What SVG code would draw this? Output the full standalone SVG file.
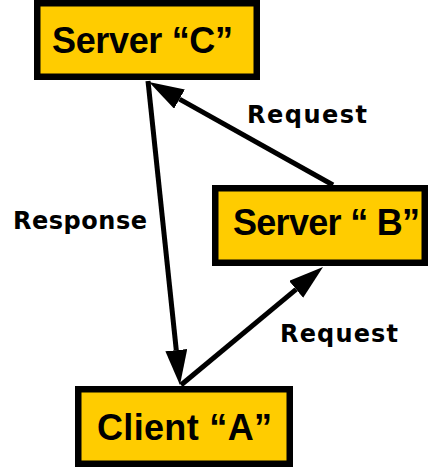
<svg xmlns="http://www.w3.org/2000/svg" width="428" height="469" viewBox="0 0 428 469">
<defs>
<style>
.box{fill:#FFCC00;stroke:#000;stroke-width:6.5}
.title{font-family:"Liberation Sans",Arial,sans-serif;font-weight:bold;font-size:36px;fill:#000}
.lbl{font-family:"DejaVu Sans",Verdana,sans-serif;font-weight:bold;font-size:24px;fill:#000}
.conn{fill:none;stroke:#000;stroke-width:5}
</style>
<marker id="ah" viewBox="0 0 35 22" refX="0" refY="11" markerWidth="35" markerHeight="22" markerUnits="userSpaceOnUse" orient="auto">
<path d="M0,0 L35,11 L0,22 Z" fill="#000"/>
</marker>
</defs>
<rect width="428" height="469" fill="#fff"/>
<g id="connectors">
<path class="conn" d="M148,81 L176.3,350.2" marker-end="url(#ah)"/>
<path class="conn" d="M333,185 L179.5,99.1" marker-end="url(#ah)"/>
<path class="conn" d="M181,385 L296.1,289.4" marker-end="url(#ah)"/>
</g>
<g id="serverC">
<rect class="box" x="37.25" y="3.25" width="219.5" height="73.5"/>
<text class="title" x="52" y="53" textLength="181">Server “C”</text>
</g>
<g id="serverB">
<rect class="box" x="215.25" y="188.25" width="209.5" height="74.5"/>
<text class="title" x="233" y="235" textLength="187" font-size="34">Server “ B”</text>
</g>
<g id="clientA">
<rect class="box" x="78.25" y="389.25" width="211.5" height="74.5"/>
<text class="title" x="97" y="440" textLength="175">Client “A”</text>
</g>
<g id="labels">
<text class="lbl" x="247" y="123" textLength="120">Request</text>
<text class="lbl" x="13" y="229" textLength="134">Response</text>
<text class="lbl" x="280" y="342" textLength="118">Request</text>
</g>
</svg>
